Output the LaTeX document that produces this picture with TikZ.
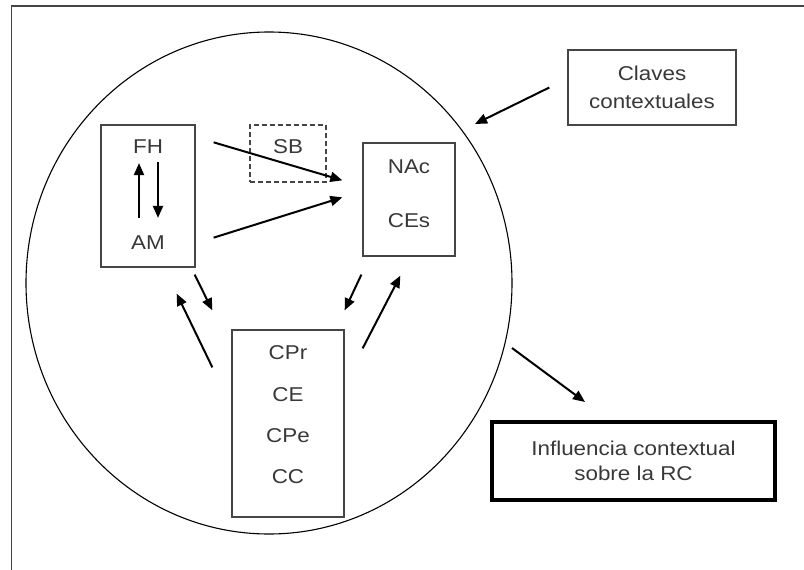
\documentclass[tikz,border=0pt]{standalone}
\usepackage{fontspec}
\setmainfont[FakeStretch=1.12]{Liberation Sans}
\usepackage{tikz}
\usetikzlibrary{shapes.geometric, arrows.meta}
\definecolor{inkgray}{HTML}{383838}
\definecolor{linegray}{HTML}{454545}

\begin{document}
\begin{tikzpicture}[
        x=1pt, y=-1pt,
        every node/.style={font=\fontsize{20}{28}\selectfont, text=inkgray},
        txt/.style={inner sep=0pt},
        box/.style={rectangle, draw=linegray, line width=1.3pt, inner sep=0pt, align=center},
        sbox/.style={box, dashed, dash pattern=on 5pt off 3pt},
        bigbox/.style={box, draw=black, line width=4pt},
        arrow/.style={line width=2pt, -{Triangle[length=12pt,width=10pt]}}
    ]
    \useasboundingbox (0,0) rectangle (804,570);

    % Frame
    \draw [linegray, line width=1.5pt] (11.5,570) -- (11.5,6) -- (804,6);

    % Nodes
    \node (ctx) [ellipse, draw=black, line width=1.1pt, minimum width=486pt, minimum height=502pt] at (269,283) {};
    \node (fhbox) [box, minimum width=94pt, minimum height=142pt] at (148,196) {};
    \node (fh) [txt] at (148,147) {FH};
    \node (am) [txt] at (148,243) {AM};
    \node (sbbox) [sbox, minimum width=76pt, minimum height=57pt] at (288,153.5) {};
    \node (sb) [txt] at (288,147) {SB};
    \node (nacbox) [box, minimum width=92pt, minimum height=113pt] at (409,199.5) {};
    \node (nac) [txt] at (409,167) {NAc};
    \node (ces) [txt] at (409,221) {CEs};
    \node (cprbox) [box, minimum width=112pt, minimum height=187pt] at (288,423.5) {};
    \node (cpr) [txt] at (288,353) {CPr};
    \node (ce) [txt] at (288,395) {CE};
    \node (cpe) [txt] at (288,436) {CPe};
    \node (cc) [txt] at (288,477) {CC};
    \node (clavesbox) [box, minimum width=168pt, minimum height=75pt, font=\fontsize{20}{28.5}\selectfont] at (652,87.5) {Claves\\contextuales};
    \node (infbox) [bigbox, minimum width=283pt, minimum height=78pt, font=\fontsize{20}{25.5}\selectfont] at (633.5,461) {Influencia contextual\\sobre la RC};
    \coordinate (cue) at (475,124);
    \coordinate (out) at (512,348);

    % Arrows
    \draw [arrow] ([xshift=-9pt,yshift=18pt]am.north) -- ([xshift=-9pt,yshift=-9pt]fh.south);
    \draw [arrow] ([xshift=10pt,yshift=-8pt]fh.south) -- ([xshift=10pt,yshift=18pt]am.north);
    \draw [arrow] ([xshift=18pt,yshift=-18pt]fhbox.north east) -- ([xshift=-20pt,yshift=-38pt]nacbox.north west);
    \draw [arrow] ([xshift=18pt,yshift=30pt]fhbox.south east) -- ([xshift=-20pt,yshift=-55pt]nacbox.north west);
    \draw [arrow] ([xshift=-1pt,yshift=-7pt]fhbox.south east) -- ([xshift=-19pt,yshift=19pt]cprbox.north west);
    \draw [arrow] ([xshift=-19pt,yshift=-38pt]cprbox.north west) -- ([xshift=-19pt,yshift=-26pt]fhbox.south east);
    \draw [arrow] ([xshift=-1pt,yshift=-18pt]nacbox.south west) -- ([yshift=19pt]cprbox.north east);
    \draw [arrow] ([xshift=18pt,yshift=-19pt]cprbox.north east) -- ([xshift=38pt,yshift=-19pt]nacbox.south west);
    \draw [arrow] ([xshift=-18pt]clavesbox.west) -- (cue);
    \draw [arrow] (out) -- ([xshift=95pt,yshift=18pt]infbox.north west);

\end{tikzpicture}
\end{document}
